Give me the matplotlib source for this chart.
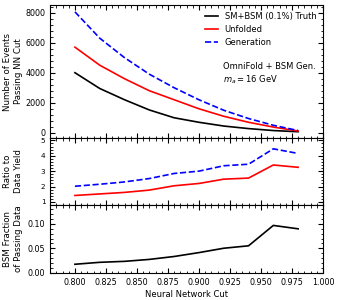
import matplotlib
matplotlib.use("Agg")
import matplotlib.pyplot as plt
from matplotlib.ticker import AutoMinorLocator

# --- данные ---
nn_cut = [0.80, 0.82, 0.84, 0.86, 0.88, 0.90, 0.92, 0.94, 0.96, 0.98]
truth = [4000, 2950, 2200, 1520, 1000, 700, 450, 280, 150, 70]
unfolded = [5700, 4500, 3600, 2800, 2200, 1600, 1100, 700, 380, 120]
generation = [8050, 6300, 5000, 3900, 3000, 2200, 1500, 950, 500, 150]
ratio_unfolded = [1.42, 1.52, 1.62, 1.77, 2.05, 2.2, 2.48, 2.55, 3.4, 3.25]
ratio_generation = [2.02, 2.15, 2.3, 2.52, 2.85, 3.0, 3.35, 3.45, 4.45, 4.15]
bsm_fraction = [0.017, 0.021, 0.023, 0.027, 0.033, 0.041, 0.050, 0.055, 0.097, 0.090]

fig = plt.figure(figsize=(3.41, 3.0), dpi=100)
gs = fig.add_gridspec(3, 1, height_ratios=[133, 67, 68], hspace=0,
                      left=0.147, right=0.947, top=0.983, bottom=0.09)
ax1 = fig.add_subplot(gs[0])
ax2 = fig.add_subplot(gs[1], sharex=ax1)
ax3 = fig.add_subplot(gs[2], sharex=ax1)

ax1.plot(nn_cut, truth, color="black", lw=1.2, label="SM+BSM (0.1%) Truth")
ax1.plot(nn_cut, unfolded, color="red", lw=1.2, label="Unfolded")
ax1.plot(nn_cut, generation, color="blue", lw=1.2, ls="--", label="Generation")
ax1.set_ylim(-350, 8500)
ax1.set_ylabel("Number of Events\nPassing NN Cut", fontsize=6.2)
ax1.legend(loc="upper right", frameon=False, fontsize=6, handlelength=1.6,
           borderaxespad=0.4)
ax1.text(0.634, 0.57, "OmniFold + BSM Gen.\n$m_a = 16$ GeV", transform=ax1.transAxes,
         ha="left", va="top", fontsize=6)

ax2.plot(nn_cut, ratio_unfolded, color="red", lw=1.2)
ax2.plot(nn_cut, ratio_generation, color="blue", lw=1.2, ls="--")
ax2.set_ylim(0.8, 5.15)
ax2.set_yticks([1, 2, 3, 4, 5])
ax2.set_ylabel("Ratio to\nData Yield", fontsize=6.2)

ax3.plot(nn_cut, bsm_fraction, color="black", lw=1.2)
ax3.set_ylim(-0.001, 0.139)
ax3.set_yticks([0.0, 0.05, 0.10])
ax3.set_ylabel("BSM Fraction\nof Passing Data", fontsize=6.2)
ax3.set_xlim(0.78, 1.0)
ax3.set_xticks([0.8, 0.825, 0.85, 0.875, 0.9, 0.925, 0.95, 0.975, 1.0])
ax3.set_xlabel("Neural Network Cut", fontsize=6, labelpad=2)

for ax in (ax1, ax2, ax3):
    ax.xaxis.set_minor_locator(AutoMinorLocator(5))
    ax.yaxis.set_minor_locator(AutoMinorLocator(5))
    ax.tick_params(which="both", direction="in", top=True, right=True, labelsize=5.8)
    ax.tick_params(which="major", length=3.5)
    ax.tick_params(which="minor", length=1.8)
    ax.yaxis.set_label_coords(-0.1, 0.5)
ax2.tick_params(labelsize=5.2)
ax1.tick_params(labelbottom=False)
ax2.tick_params(labelbottom=False)

fig.savefig("out.png", dpi=100)
